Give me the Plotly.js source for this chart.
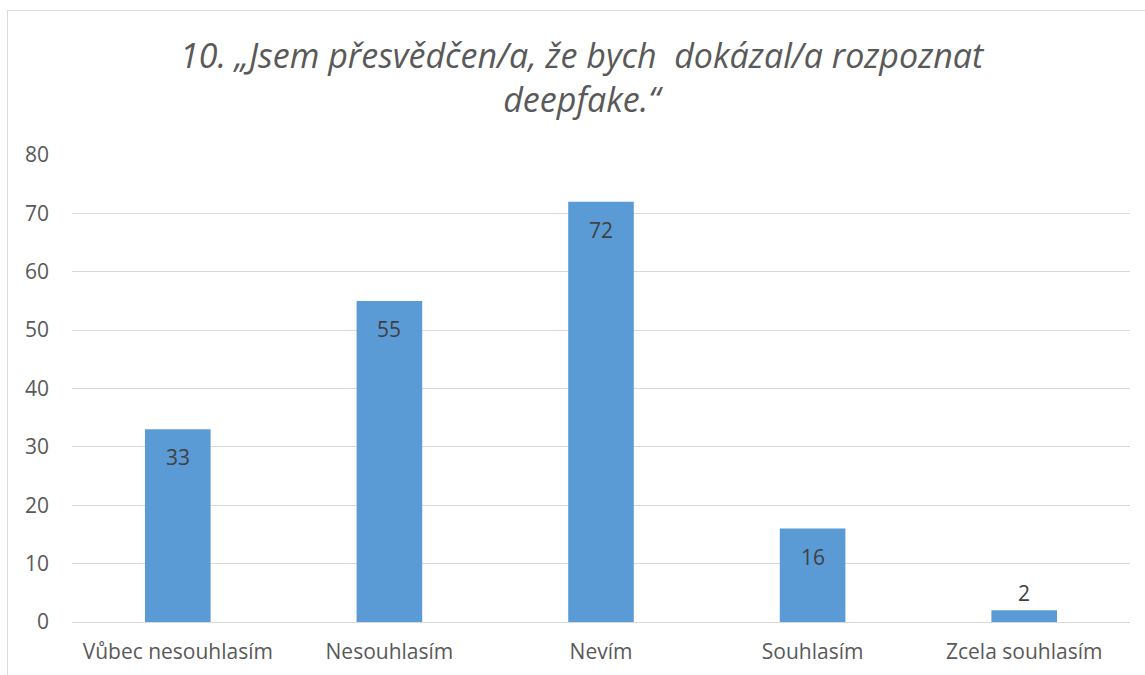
<!DOCTYPE html>
<html><head><meta charset="utf-8">
<script src="https://cdn.plot.ly/plotly-3.0.1.min.js"></script>
<style>
html,body{margin:0;padding:0;background:#fff;overflow:hidden;}
#frame{position:absolute;left:7px;top:10px;width:1200px;height:700px;border:1px solid #d9d9d9;box-sizing:border-box;}
#chart{position:absolute;left:0;top:0;width:1145px;height:675px;}
</style></head>
<body>
<div id="frame"></div>
<div id="chart"></div>
<script>
const categories = ["Vůbec nesouhlasím", "Nesouhlasím", "Nevím", "Souhlasím", "Zcela souhlasím"];
const values = [33, 55, 72, 16, 2];
const yTicks = [0, 10, 20, 30, 40, 50, 60, 70, 80];
const titleText = "10. „Jsem přesvědčen/a, že bych  dokázal/a rozpoznat<br>deepfake.“";

const font = "'Open Sans', sans-serif";
const annotations = categories.map((c, i) => {
  const inside = values[i] >= 10;
  return {
    x: c, y: values[i], xref: 'x', yref: 'y',
    text: String(values[i]), showarrow: false,
    yanchor: inside ? 'top' : 'bottom',
    yshift: inside ? -12 : 1,
    font: {family: font, size: 21, color: '#404040'}
  };
});

Plotly.newPlot('chart', [{
  type: 'bar', x: categories, y: values,
  marker: {color: '#5b9bd5'},
  hoverinfo: 'none'
}], {
  width: 1145, height: 675,
  paper_bgcolor: 'rgba(0,0,0,0)', plot_bgcolor: 'rgba(0,0,0,0)',
  margin: {l: 72, r: 15, t: 155, b: 53},
  bargap: 0.69,
  showlegend: false,
  title: {text: titleText, x: 0.508, xanchor: 'center', y: 1 - 68/675, yanchor: 'middle',
    font: {family: font, size: 34, color: '#595959', style: 'italic'}},
  xaxis: {tickfont: {family: font, size: 21, color: '#595959'}, showgrid: false,
    ticks: '', showline: false, ticklabelstandoff: 15},
  yaxis: {range: [0, 80], tickvals: yTicks, tickfont: {family: font, size: 21, color: '#595959'},
    gridcolor: '#d9d9d9', gridwidth: 1, zeroline: true, zerolinecolor: '#d9d9d9', zerolinewidth: 1,
    showline: false, ticks: '', ticklabelstandoff: 22},
  annotations: annotations
}, {displayModeBar: false, staticPlot: true});
</script>
</body></html>
